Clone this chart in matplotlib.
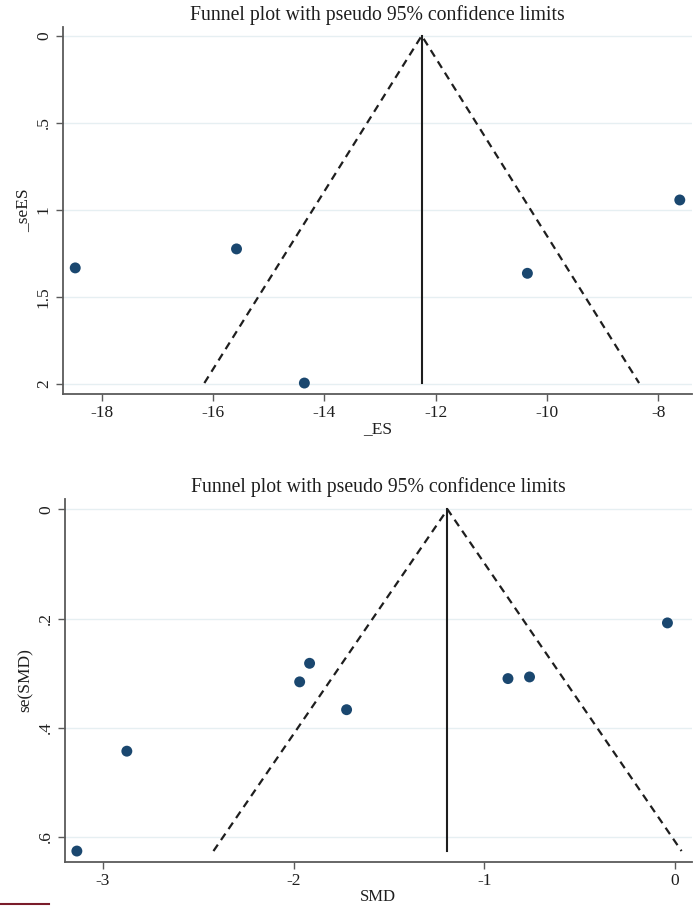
import matplotlib
matplotlib.use('Agg')
import matplotlib.pyplot as plt
import numpy as np
from matplotlib.lines import Line2D

# Top panel: effect sizes and their standard errors
es_top = [-18.48, -15.58, -14.36, -10.35, -7.61]
se_top = [1.333, 1.224, 1.994, 1.364, 0.943]
pooled_top = -12.25
xticks_top = [-18, -16, -14, -12, -10, -8]
yticks_top = [0, 0.5, 1, 1.5, 2]
ylabels_top = ['0', '.5', '1', '1.5', '2']

# Bottom panel: SMD and se(SMD)
smd = [-3.136, -2.874, -1.916, -1.968, -1.722, -0.876, -0.763, -0.04]
se_smd = [0.626, 0.443, 0.282, 0.316, 0.367, 0.310, 0.307, 0.208]
pooled_bot = -1.193
xticks_bot = [-3, -2, -1, 0]
yticks_bot = [0, 0.2, 0.4, 0.6]
ylabels_bot = ['0', '.2', '.4', '.6']

NAVY = '#1a476f'
GRID = '#e6eff2'
SPINE = '#5a5a5a'
INK = '#1e1e1e'
TITLE = 'Funnel plot with pseudo 95% confidence limits'

plt.rcParams['font.family'] = ['Liberation Serif', 'DejaVu Serif']

fig = plt.figure(figsize=(7, 9.06), dpi=100)
fig.patch.set_facecolor('white')


def funnel(ax, x, se, pooled, xticks, yticks, ylabels, xlim, ylim, xlabel, ylabel):
    ax.set_facecolor('white')
    for y in yticks:
        ax.axhline(y, color=GRID, lw=1.0, zorder=0)
    smax = max(se)
    ax.plot([pooled - 1.96 * smax, pooled, pooled + 1.96 * smax], [smax, 0, smax],
            color=INK, lw=1.6, ls=(0, (3.5, 2.5)), zorder=2)
    ax.plot([pooled, pooled], [0, smax], color=INK, lw=1.5, zorder=2)
    ax.scatter(x, se, s=62, color=NAVY, edgecolors='none', zorder=3)
    ax.set_xlim(*xlim)
    ax.set_ylim(*ylim)
    ax.set_xticks(xticks)
    ax.set_xticklabels([f'{t}' for t in xticks], fontsize=12.5, color=INK)
    ax.set_yticks(yticks)
    ax.set_yticklabels(ylabels, fontsize=12.5, color=INK, rotation=90, va='center')
    ax.spines['top'].set_visible(False)
    ax.spines['right'].set_visible(False)
    for s in ('left', 'bottom'):
        ax.spines[s].set_color(SPINE)
        ax.spines[s].set_linewidth(1.3)
    ax.tick_params(direction='out', length=5, width=1, color=SPINE, pad=3)
    ax.set_xlabel(xlabel, fontsize=12.5, color=INK, labelpad=0)
    ax.set_ylabel(ylabel, fontsize=12.5, color=INK, labelpad=3)
    ax.set_title(TITLE, fontsize=14.2, color=INK, pad=5)
    ax.grid(False)


ax1 = fig.add_axes([0.09, 0.5651, 0.8986, 0.4051])
funnel(ax1, es_top, se_top, pooled_top, xticks_top, yticks_top, ylabels_top,
       (-18.70, -7.39), (2.057, -0.05), '_ES', '_seES')

ax2 = fig.add_axes([0.0929, 0.0486, 0.8952, 0.4006])
funnel(ax2, smd, se_smd, pooled_bot, xticks_bot, yticks_bot, ylabels_bot,
       (-3.198, 0.087), (0.646, -0.019), 'SMD', 'se(SMD)')
ax2.xaxis.label.set_fontsize(12)

# small dark-red rule at the bottom-left corner of the page
fig.add_artist(Line2D([0.0, 0.07], [0.0022, 0.0022], color='#7a1c2a', lw=1.5))

fig.savefig('out.png', dpi=100, facecolor='white')
